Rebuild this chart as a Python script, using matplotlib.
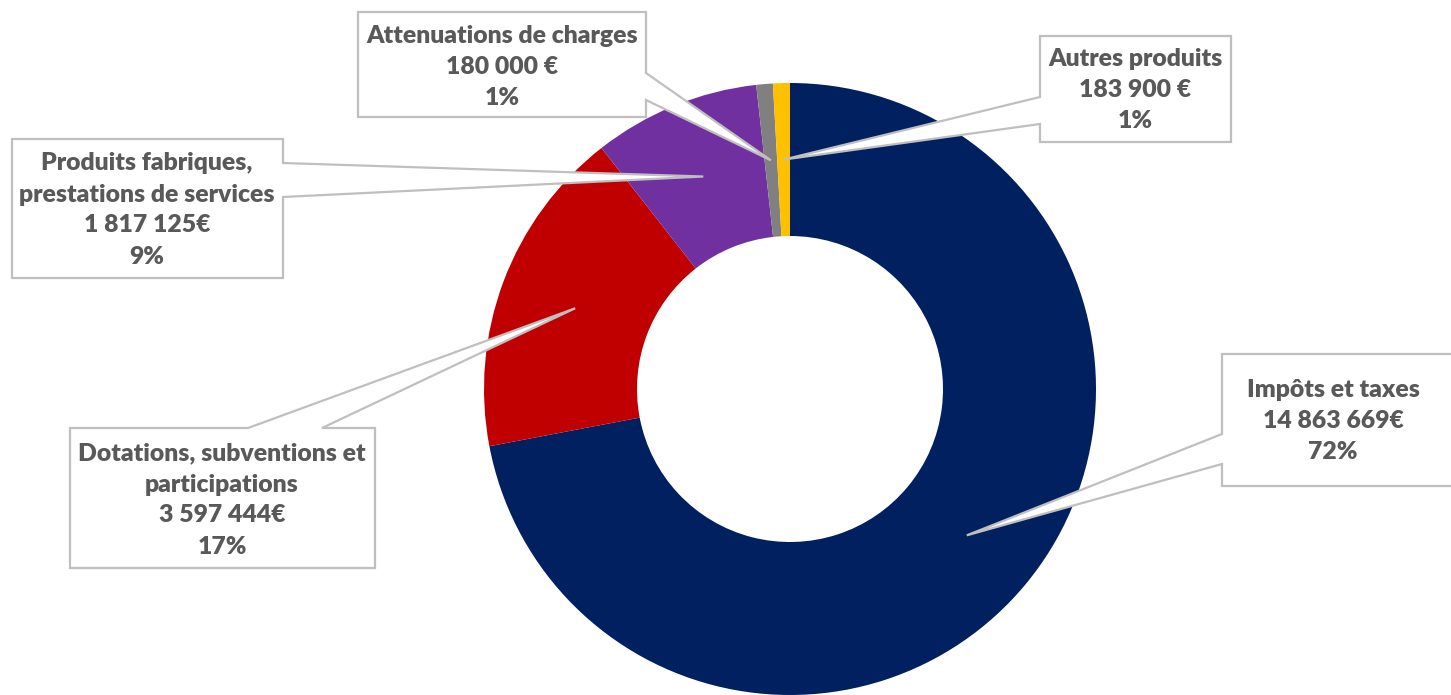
import numpy as np
import matplotlib.pyplot as plt
from matplotlib.patches import Polygon

# Data
labels = ["Impôts et taxes", "Dotations, subventions et\nparticipations",
          "Produits fabriques,\nprestations de services",
          "Attenuations de charges", "Autres produits"]
values = [14863669, 3597444, 1817125, 180000, 183900]
euro_suffix = ["€", "€", "€", " €", " €"]
colors = ["#002060", "#C00000", "#7030A0", "#808080", "#FFC000"]

W, H = 1451, 695
text_color = "#595959"
border_color = "#BFBFBF"

# callout layout in pixel coords (y down): box x0, x1, y0, y1, side of pointer, pointer span, text centre
callouts = [
    dict(box=(1222, 1456, 354, 486), side="left", span=(434, 464), text=(1333, 421)),
    dict(box=(70, 375, 428, 568), side="top", span=(248, 322), text=(222, 500)),
    dict(box=(12, 283, 139, 278), side="right", span=(163, 197), text=(147, 210)),
    dict(box=(358, 646, 12, 117), side="right", span=(73, 100), text=(502, 67)),
    dict(box=(1040, 1231, 36, 142), side="left", span=(97, 124), text=(1135, 90)),
]

fig = plt.figure(figsize=(W / 100, H / 100), dpi=100)
ax = fig.add_axes([0, 0, 1, 1])

cx, cy, R = 790, H - 389, 306
wedges, _ = ax.pie(values, colors=colors, startangle=90, counterclock=False,
                   radius=R, center=(cx, cy), frame=True,
                   wedgeprops=dict(width=R * 0.5, linewidth=0))
ax.set_xlim(0, W)
ax.set_ylim(0, H)
ax.set_aspect("equal")
ax.axis("off")


def fy(y):
    return H - y


total = sum(values)
for w, lab, v, suf, co in zip(wedges, labels, values, euro_suffix, callouts):
    # pointer tip sits in the middle of the ring, at the slice's mid angle
    mid = np.deg2rad((w.theta1 + w.theta2) / 2)
    rmid = R * 0.75
    tip = (cx + rmid * np.cos(mid), cy + rmid * np.sin(mid))
    x0, x1, y0, y1 = co["box"]
    a, b = co["span"]
    if co["side"] == "right":
        pts = [(x0, y0), (x1, y0), (x1, a), None, (x1, b), (x1, y1), (x0, y1)]
    elif co["side"] == "left":
        pts = [(x0, y0), (x1, y0), (x1, y1), (x0, y1), (x0, b), None, (x0, a)]
    else:
        pts = [(x0, y0), (a, y0), None, (b, y0), (x1, y0), (x1, y1), (x0, y1)]
    verts = [tip if p is None else (p[0], fy(p[1])) for p in pts]
    ax.add_patch(Polygon(verts, closed=True, facecolor="white",
                         edgecolor=border_color, linewidth=1.6, zorder=5))
    pct = round(v / total * 100)
    amount = f"{v:,}".replace(",", " ") + suf
    tx, ty = co["text"]
    ax.text(tx, fy(ty), f"{lab}\n{amount}\n{pct}%", ha="center", va="center",
            multialignment="center", fontsize=17.8, fontweight="heavy",
            family="Lato", color=text_color, linespacing=1.5, zorder=6)

fig.savefig("out.png", dpi=100)
